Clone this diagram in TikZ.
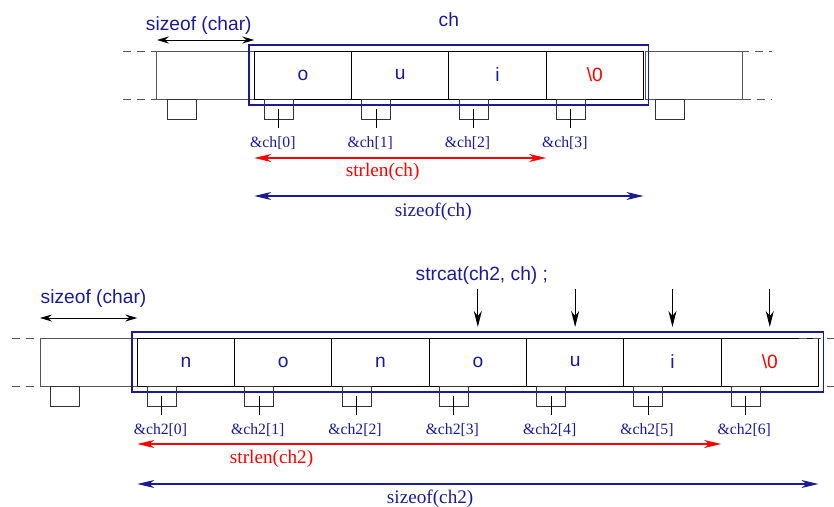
\documentclass[tikz,border=0pt]{standalone}
\usepackage{fontspec}
\setmainfont{Liberation Serif}
\setsansfont{Liberation Sans}
\usetikzlibrary{positioning, arrows.meta, fit}

\definecolor{navy}{RGB}{26,26,150}
\definecolor{boxgray}{RGB}{85,85,85}

\tikzset{
  cell/.style={draw, minimum width=97.3pt, minimum height=48pt, inner sep=0pt, outer sep=0pt,
    text=navy, font=\sffamily\fontsize{19.2}{23}\selectfont},
  spare/.style={cell, draw=boxgray},
  slot/.style={draw=black!80, minimum width=29pt, minimum height=20pt, inner sep=0pt, outer sep=0pt, anchor=north},
  addr/.style={text=navy, inner sep=0pt, font=\fontsize{15.7}{18}\selectfont},
  dimlabel/.style={inner sep=0pt, font=\fontsize{19.2}{22}\selectfont},
  arrname/.style={text=navy, inner sep=0pt, font=\sffamily\fontsize{19.2}{23}\selectfont},
  arraybox/.style={draw=navy, line width=1.8pt, inner xsep=5pt, inner ysep=6pt},
  dashline/.style={draw=boxgray, dash pattern=on 8pt off 6pt},
  charwidth/.style={<->, >={Stealth[length=12pt, width=7pt, inset=4pt]}},
  sizespan/.style={<->, line width=1.2pt, >={Stealth[length=17pt, width=8pt, inset=5pt]}},
  copyarrow/.style={->, >={Stealth[length=16pt, width=8pt, inset=5pt]}}
}

\begin{document}
\begin{tikzpicture}[x=1pt, y=-1pt, line width=1pt]
  \useasboundingbox (0,0) rectangle (834,506);

  % char ch[] = "oui"
  \node[spare] (lb) at (205.6,75) {};
  \node[cell] (c0) [right=0pt of lb] {o};
  \node[cell] (c1) [right=0pt of c0] {u};
  \node[cell] (c2) [right=0pt of c1] {i};
  \node[cell, text=red] (c3) [right=0pt of c2] {\textbackslash0};
  \node[spare] (rb) [right=2pt of c3] {};
  \node[arraybox, fit=(c0)(c3)] (ch) {};
  \node[arrname] (chname) [above=17pt of ch] {ch};

  \draw[dashline] ([xshift=-34pt]lb.north west) -- ([xshift=23pt]lb.north west);
  \draw[dashline] ([xshift=-34pt]lb.south west) -- (lb.south west);
  \draw[dashline] ([xshift=-30pt]rb.north east) -- ([xshift=29pt]rb.north east);
  \draw[dashline] (rb.south east) -- ([xshift=29pt]rb.south east);

  \foreach \n in {lb,c0,c1,c2,c3,rb}
    \node[slot] (s\n) at ([xshift=-24pt]\n.south) {};
  \foreach \i in {0,...,3} {
    \draw (sc\i.center) -- ++(0,19) coordinate (t\i);
    \node[addr] (a\i) [below=8pt of t\i, xshift=-6pt] {\&ch[\i]};
  }

  \draw[charwidth] ([yshift=11pt]lb.north west) -- ([yshift=11pt]lb.north east)
    node[arrname, pos=.43, above=5pt] {sizeof (char)};
  \draw[sizespan, red] ([yshift=-59pt]c0.south west) -- ([yshift=-59pt]c3.south west)
    node[dimlabel, pos=.44, below=5pt] {strlen(ch)};
  \draw[sizespan, navy] ([yshift=-97pt]c0.south west) -- ([yshift=-97pt]c3.south east)
    node[dimlabel, pos=.46, below=6pt] {sizeof(ch)};

  % char ch2[] = "non" + ch
  \node[spare] (lb2) at (88.65,362) {};
  \node[cell] (d0) [right=0pt of lb2] {n};
  \node[cell] (d1) [right=0pt of d0] {o};
  \node[cell] (d2) [right=0pt of d1] {n};
  \node[cell] (d3) [right=0pt of d2] {o};
  \node[cell] (d4) [right=0pt of d3] {u};
  \node[cell] (d5) [right=0pt of d4] {i};
  \node[cell, text=red] (d6) [right=0pt of d5] {\textbackslash0};
  \node[arraybox, fit=(d0)(d6)] (ch2) {};

  \draw[dashline] ([xshift=-28pt]lb2.north west) -- ([xshift=28pt]lb2.north west);
  \draw[dashline] ([xshift=-28pt]lb2.south west) -- (lb2.south west);
  \draw[dashline] ([xshift=-19pt]d6.north east) -- ([xshift=20pt]d6.north east);
  \draw[dashline] ([xshift=9pt]d6.south east) -- ([xshift=20pt]d6.south east);

  \foreach \n in {lb2,d0,d1,d2,d3,d4,d5,d6}
    \node[slot] (s\n) at ([xshift=-24pt]\n.south) {};
  \foreach \i in {0,...,6} {
    \draw (sd\i.center) -- ++(0,19) coordinate (u\i);
    \node[addr] (b\i) [below=8pt of u\i, xshift=-1.5pt] {\&ch2[\i]};
  }

  \draw[charwidth] ([yshift=20pt]lb2.north west) -- ([yshift=20pt]lb2.north east)
    node[arrname, pos=.55, above=10pt] {sizeof (char)};
  \draw[sizespan, red] ([yshift=-58pt]d0.south west) -- ([yshift=-58pt]d6.south west)
    node[dimlabel, pos=.23, below=6pt] {strlen(ch2)};
  \draw[sizespan, navy] ([yshift=-98pt]d0.south west) -- ([yshift=-98pt]d6.south east)
    node[dimlabel, pos=.43, below=5pt] {sizeof(ch2)};

  % strcat copies ch behind "non"
  \node[arrname] (cat) at ([xshift=4pt, yshift=62pt]d3.north) {strcat(ch2, ch) ;};
  \foreach \i in {3,...,6}
    \draw[copyarrow] ([yshift=49pt]d\i.north) -- ([yshift=11pt]d\i.north);
\end{tikzpicture}
\end{document}
